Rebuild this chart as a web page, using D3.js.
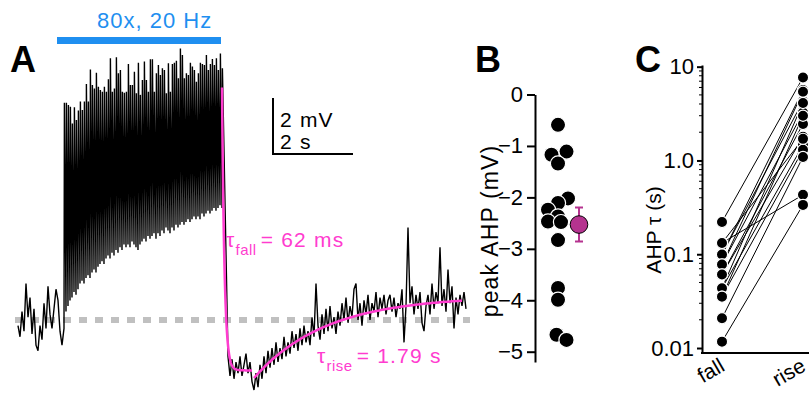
<!DOCTYPE html>
<html>
<head>
<meta charset="utf-8">
<script src="https://cdn.jsdelivr.net/npm/d3@7"></script>
<style>
  html, body { margin: 0; padding: 0; background: #fff; }
  svg { display: block; font-family: 'Liberation Sans', Arial, Helvetica, sans-serif; }
</style>
</head>
<body>
<svg id="chart" width="809" height="395"></svg>
<script>
// ---- panel A: example recording (mV) ----
// baseline before the train, one sample every 50 ms from t = -1.075 s
const preTrace = [-0.2, -0.6, 0.3, -0.4, 1.3, 0.1, 0.8, -0.5, 0.4, -0.9, -1.1, -0.2,
  -0.7, 0.6, -0.3, 1.2, 0.2, -0.3, 0.4, 1.1, 0.7, -0.4, -0.9];
// 80 stimuli at 20 Hz: peak and trough of each response
const spikePeaks = [7.76, 7.76, 7.68, 7.62, 7.02, 7.60, 7.14, 7.48, 7.80, 7.50, 7.80, 8.43,
  7.80, 8.95, 8.39, 8.27, 8.83, 8.33, 8.21, 8.15, 8.33, 8.15, 8.60, 9.35, 8.15, 8.27,
  9.38, 8.81, 8.93, 8.15, 8.12, 8.15, 9.14, 8.39, 8.39, 8.87, 8.10, 9.19, 8.04, 8.57,
  9.23, 8.57, 8.15, 9.31, 9.31, 8.15, 8.81, 9.11, 8.75, 8.99, 8.93, 8.10, 9.17, 8.15,
  9.14, 9.19, 9.26, 8.63, 9.70, 9.46, 8.63, 8.81, 8.75, 9.19, 9.05, 8.93, 8.51, 8.81,
  9.19, 9.14, 9.11, 9.46, 8.93, 9.14, 9.32, 9.11, 9.35, 8.93, 9.52, 8.99];
const spikeTroughs = [-0.3, 0.3, 0.5, 0.7, 0.8, 1.0, 0.9, 1.1, 1.3, 1.4, 1.3, 1.5, 1.6,
  1.5, 1.7, 1.8, 1.7, 1.9, 2.0, 2.1, 2.0, 2.2, 2.3, 2.2, 2.4, 2.3, 2.5, 2.4, 2.6, 2.5,
  2.7, 2.6, 2.7, 2.6, 2.8, 2.7, 2.6, 2.5, 2.7, 2.8, 2.9, 2.8, 3.0, 2.9, 3.0, 3.1, 2.9,
  3.1, 3.0, 3.2, 3.1, 3.3, 3.2, 3.1, 3.3, 3.2, 3.4, 3.3, 3.4, 3.5, 3.4, 3.5, 3.6, 3.5,
  3.6, 3.7, 3.6, 3.7, 3.6, 3.8, 3.7, 3.8, 3.9, 3.8, 3.9, 4.0, 3.9, 4.0, 4.1, 4.0];
// after the train, one sample every 50 ms from t = 4.175 s
const postTrace = [-1.3, -2.0, -1.4, -2.1, -1.5, -1.9, -1.3, -2.0, -1.6, -1.2, -1.9, -1.5,
  -2.2, -2.5, -1.9, -2.4, -1.6, -2.1, -1.3, -1.9, -1.1, -1.7, -1.0, -1.6, -0.8, -1.5,
  -1.0, -1.4, -0.6, -1.3, -0.8, -1.2, -0.4, -1.0, -0.5, -1.1, -0.3, -0.9, -0.2, -0.8,
  -0.4, -0.9, 0.1, -0.6, 1.3, -0.2, -0.7, 0.2, -0.5, 0.4, -0.4, 0.5, -0.3, 0.1, -0.5,
  0.3, -0.2, 0.6, 0.0, 0.8, -0.1, 0.5, 0.1, 1.1, 1.3, 0.0, 0.6, -0.2, 0.7, 0.2, 0.9,
  0.0, 0.6, 0.3, 1.0, 0.1, 0.8, 0.4, 0.9, 0.2, 0.7, 0.9, 0.3, 0.8, 0.1, 0.6, 0.4, 1.1,
  -0.8, 0.5, 3.3, 0.6, 1.2, 0.2, 0.9, 0.4, 1.0, -0.1, -0.4, 0.5, 0.9, 0.2, 1.3, 0.4,
  1.0, 0.6, 2.6, 0.5, 1.1, 0.3, 1.8, 0.6, 1.2, -0.3, 0.8, 0.2, 0.9, 0.5, 1.0, 0.4];
// exponential fits shown in pink
const tauFall = 0.062, tauRise = 1.79;     // s
const fallFrom = 8.3, fallTo = -1.8;       // mV
const riseFrom = -2.07, riseTo = 0.85;     // mV

// ---- panel B: peak AHP per cell (mV) ----
const ahpPeak = [-0.59, -1.11, -1.17, -1.34, -2.02, -2.11, -2.24, -2.37, -2.47, -2.48,
  -2.83, -3.76, -3.99, -4.67, -4.77];
const ahpJitter = [0, 0.85, -0.65, 0, 1, 0, -1, 0, -1, 0.3, 0, 0, 0, -0.15, 0.85];

// ---- panel C: AHP time constants per cell (s) ----
const tauFallCells = [0.221, 0.132, 0.0995, 0.0995, 0.0778, 0.0778, 0.0609, 0.0609,
  0.0434, 0.0434, 0.0353, 0.0353, 0.0208, 0.0117, 0.132];
const tauRiseCells = [7.67, 0.43, 5.65, 4.31, 5.4, 3.25, 1.79, 2.45, 4.1, 1.46, 3.0,
  1.3, 1.09, 0.336, 1.7];
const phases = ['fall', 'rise'];

const pink = '#ff3ccf', purple = '#b5338f', blue = '#1f8ff0';
const svg = d3.select('#chart');

// ================= A =================
const xA = d3.scaleLinear().domain([0, 10]).range([61, 461]);
const yA = d3.scaleLinear().domain([0, 10]).range([320, 40]);
const gA = svg.append('g');

gA.append('text').attr('x', 10).attr('y', 72)
  .style('font-size', '36px').style('font-weight', 'bold').text('A');

// stimulus bar
gA.append('rect')
  .attr('x', xA(-0.1)).attr('y', 37)
  .attr('width', xA(4.0) - xA(-0.1)).attr('height', 7)
  .attr('fill', blue);
gA.append('text').attr('x', 97).attr('y', 28)
  .style('font-size', '22px').style('letter-spacing', '1px')
  .attr('fill', blue).text('80x, 20 Hz');

// baseline
gA.append('line')
  .attr('x1', 15).attr('x2', 470)
  .attr('y1', yA(0)).attr('y2', yA(0))
  .attr('stroke', '#c0c0c0').attr('stroke-width', 6)
  .attr('stroke-dasharray', '8,8');

const tracePts = [];
preTrace.forEach((v, i) => tracePts.push([-1.075 + i * 0.05, v]));
spikePeaks.forEach((p, i) => {
  const t = 0.075 + i / 20;
  tracePts.push([t, spikeTroughs[i]]);
  tracePts.push([t + 0.01, p]);
});
postTrace.forEach((v, i) => tracePts.push([4.175 + i * 0.05, v]));

const lineA = d3.line().x(d => xA(d[0])).y(d => yA(d[1]));
gA.append('path').datum(tracePts)
  .attr('d', lineA).attr('fill', 'none')
  .attr('stroke', '#000').attr('stroke-width', 1.4)
  .attr('stroke-linejoin', 'miter').attr('stroke-miterlimit', 2);

// fits
const fallT = d3.range(4.025, 4.776, 0.005);
const riseT = d3.range(4.825, 10.03, 0.05);
gA.append('path')
  .datum(fallT.map(t => [t, fallTo + (fallFrom - fallTo) * Math.exp(-(t - 4.025) / tauFall)]))
  .attr('d', lineA).attr('fill', 'none').attr('stroke', pink).attr('stroke-width', 2.5);
gA.append('path')
  .datum(riseT.map(t => [t, riseTo - (riseTo - riseFrom) * Math.exp(-(t - 4.825) / tauRise)]))
  .attr('d', lineA).attr('fill', 'none').attr('stroke', pink).attr('stroke-width', 2.5);

// scale bar
const sbT = 5.3, sbV = 5.93;
gA.append('path')
  .attr('d', `M${xA(sbT)},${yA(sbV + 2)}V${yA(sbV)}H${xA(sbT + 2)}`)
  .attr('fill', 'none').attr('stroke', '#000').attr('stroke-width', 2);
gA.append('text').attr('x', 280).attr('y', 127)
  .style('font-size', '21px').style('letter-spacing', '1.2px').text('2 mV');
gA.append('text').attr('x', 280).attr('y', 149)
  .style('font-size', '21px').style('letter-spacing', '1.2px').text('2 s');

function tauLabel(x, y, sub, rest) {
  const t = gA.append('text').attr('x', x).attr('y', y).attr('fill', pink)
    .style('font-size', '21px').style('letter-spacing', '1.2px');
  t.append('tspan').text('τ');
  t.append('tspan').attr('dy', 8).style('font-size', '15px')
    .style('letter-spacing', '0.5px').text(sub);
  t.append('tspan').attr('dy', -8).attr('dx', 4).text(rest);
}
tauLabel(226, 247, 'fall', '= 62 ms');
tauLabel(317, 363, 'rise', '= 1.79 s');

// ================= B =================
const yB = d3.scaleLinear().domain([0, -5.2]).range([94.5, 362]);
const xB = d3.scaleLinear().domain([-1, 1]).range([548, 568]);
const gB = svg.append('g');

gB.append('text').attr('x', 475).attr('y', 72)
  .style('font-size', '36px').style('font-weight', 'bold').text('B');

const axB = gB.append('g').attr('transform', 'translate(535,0)')
  .call(d3.axisLeft(yB).tickValues([0, -1, -2, -3, -4, -5])
    .tickFormat(d3.format('d'))
    .tickSize(8).tickSizeOuter(0).tickPadding(4));
axB.select('.domain').attr('stroke-width', 2);
axB.selectAll('.tick line').attr('stroke-width', 2);
axB.selectAll('.tick text').style('font-size', '22px')
  .style('font-family', "'Liberation Sans', Arial, sans-serif");

gB.append('text')
  .attr('transform', 'translate(498,231) rotate(-90)')
  .attr('text-anchor', 'middle')
  .style('font-size', '23px').style('letter-spacing', '1.1px')
  .text('peak AHP (mV)');

gB.selectAll('circle.cell').data(ahpPeak).join('circle')
  .attr('class', 'cell')
  .attr('cx', (d, i) => xB(ahpJitter[i]))
  .attr('cy', d => yB(d))
  .attr('r', 7.6)
  .attr('fill', '#000').attr('stroke', '#fff').attr('stroke-width', 1.2);

const mB = d3.mean(ahpPeak);
const semB = d3.deviation(ahpPeak) / Math.sqrt(ahpPeak.length);
const mx = xB(2.1);
gB.append('path')
  .attr('d', `M${mx},${yB(mB + semB)}V${yB(mB - semB)}M${mx - 4},${yB(mB + semB)}h8M${mx - 4},${yB(mB - semB)}h8`)
  .attr('stroke', purple).attr('stroke-width', 2).attr('fill', 'none');
gB.append('circle').attr('cx', mx).attr('cy', yB(mB)).attr('r', 8.8)
  .attr('fill', purple).attr('stroke', '#000').attr('stroke-width', 1);

// ================= C =================
const yC = d3.scaleLog().domain([0.00885, 10.42]).range([353, 65]);
const xC = d3.scalePoint().domain(phases).range([722, 803]);
const gC = svg.append('g');

gC.append('text').attr('x', 635).attr('y', 72)
  .style('font-size', '36px').style('font-weight', 'bold').text('C');

const axC = gC.append('g').attr('transform', 'translate(702,0)')
  .call(d3.axisLeft(yC).tickValues([0.01, 0.1, 1, 10])
    .tickFormat(v => v === 1 ? '1.0' : String(v))
    .tickSize(5).tickSizeOuter(0).tickPadding(3));
axC.select('.domain').attr('stroke-width', 2);
axC.selectAll('.tick line').attr('stroke-width', 2);
axC.selectAll('.tick text').style('font-size', '22px')
  .style('font-family', "'Liberation Sans', Arial, sans-serif");

const minor = [];
[0.01, 0.1, 1].forEach(d => d3.range(2, 10).forEach(k => minor.push(d * k)));
gC.selectAll('line.minor').data(minor).join('line')
  .attr('class', 'minor')
  .attr('x1', 699).attr('x2', 702)
  .attr('y1', d => yC(d)).attr('y2', d => yC(d))
  .attr('stroke', '#000').attr('stroke-width', 1);

gC.append('line').attr('x1', 701).attr('x2', 809).attr('y1', 353).attr('y2', 353)
  .attr('stroke', '#000').attr('stroke-width', 2);

gC.selectAll('text.cat').data(phases).join('text')
  .attr('class', 'cat')
  .attr('text-anchor', 'end')
  .attr('transform', d => `translate(${xC(d) + 4},370) rotate(-30)`)
  .style('font-size', '21px')
  .text(d => d);

gC.append('text')
  .attr('transform', 'translate(661,230) rotate(-90)')
  .attr('text-anchor', 'middle')
  .style('font-size', '21px')
  .text('AHP τ (s)');

gC.selectAll('line.pair').data(tauFallCells).join('line')
  .attr('class', 'pair')
  .attr('x1', xC('fall')).attr('x2', xC('rise'))
  .attr('y1', d => yC(d)).attr('y2', (d, i) => yC(tauRiseCells[i]))
  .attr('stroke', '#000').attr('stroke-width', 1);

const dotsC = tauFallCells.map(v => ['fall', v]).concat(tauRiseCells.map(v => ['rise', v]));
gC.selectAll('circle.cell').data(dotsC).join('circle')
  .attr('class', 'cell')
  .attr('cx', d => xC(d[0])).attr('cy', d => yC(d[1]))
  .attr('r', 5.6)
  .attr('fill', '#000').attr('stroke', '#fff').attr('stroke-width', 1.2);
</script>
</body>
</html>
